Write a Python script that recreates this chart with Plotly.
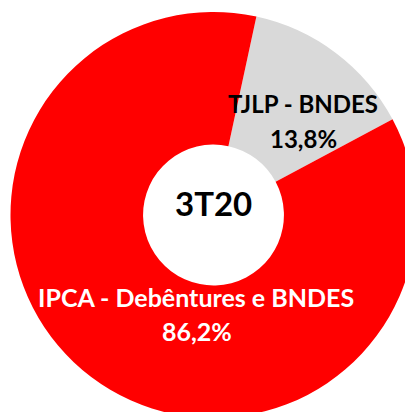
import plotly.graph_objects as go

labels = ["TJLP - BNDES", "IPCA - Debêntures e BNDES"]
values = [13.8, 86.2]
value_text = ["13,8%", "86,2%"]
center_label = "3T20"
colors = ["#D9D9D9", "#FF0000"]

W, H = 413, 412
OFF = 8  # page body margin offset
cx, cy, r = 213.5 - OFF, 215 - OFF, 203

fig = go.Figure(go.Pie(
    labels=labels, values=values, sort=False, direction="clockwise",
    rotation=12.2, hole=0.347, textinfo="none", hoverinfo="label+percent",
    marker=dict(colors=colors, line=dict(width=0)),
    domain=dict(x=[(cx - r) / W, (cx + r) / W], y=[1 - (cy + r) / H, 1 - (cy - r) / H]),
    showlegend=False,
))

font = "Lato, 'Open Sans', sans-serif"


def txt(s, x, y, size, color):
    # x, y: desired centre of capitals on screen, in px from top-left
    fig.add_annotation(x=(x - OFF) / W, y=1 - (y - OFF - 0.2 * size) / H,
                       xref="paper", yref="paper",
                       xanchor="center", yanchor="middle",
                       text=f"<b>{s}</b>", showarrow=False,
                       font=dict(family=font, size=size, color=color))


txt(labels[0], 303, 108.5, 24, "black")
txt(value_text[0], 303, 143.5, 24, "black")
txt(labels[1], 196, 301.5, 25, "white")
txt(value_text[1], 197, 335.5, 25, "white")
txt(center_label, 213.5, 210, 33, "black")

fig.update_layout(width=W, height=H, margin=dict(l=0, r=0, t=0, b=0),
                  paper_bgcolor="white", plot_bgcolor="white")
fig.write_html("out.html")
